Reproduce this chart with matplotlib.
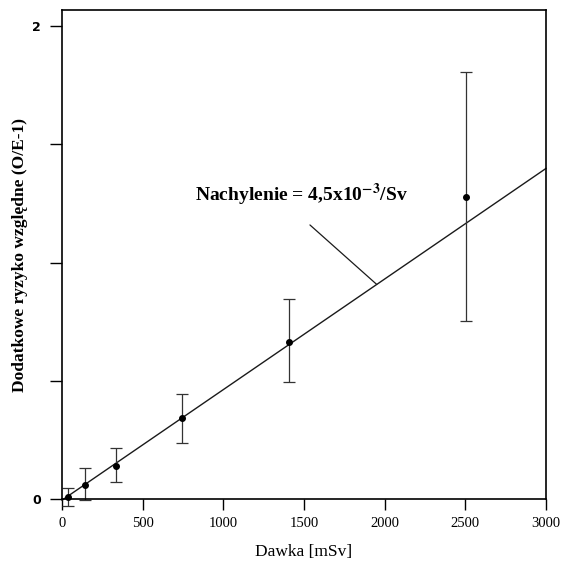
import matplotlib
matplotlib.use('Agg')
import matplotlib.pyplot as plt
import numpy as np

plt.rcParams['font.family'] = ['Liberation Serif', 'DejaVu Serif']
plt.rcParams['mathtext.fontset'] = 'stix'

# dose points
dose = [40, 140, 333, 742, 1409, 2505]
risk = [0.007, 0.059, 0.140, 0.341, 0.665, 1.278]
err_lo = [0.037, 0.063, 0.067, 0.105, 0.172, 0.525]
err_hi = [0.040, 0.073, 0.074, 0.103, 0.179, 0.526]

# fitted line ends
fit_x = [0, 3000]
fit_y = [-0.005, 1.398]

xticks = [0, 500, 1000, 1500, 2000, 2500, 3000]
yticks = [0, 0.5, 1.0, 1.5, 2.0]
ytick_labels = ['0', '', '', '', '2']

fig = plt.figure(figsize=(5.62, 5.69), dpi=100)
ax = fig.add_axes([0.1103, 0.1230, 0.8612, 0.8594])

ax.plot(fit_x, fit_y, color='#1a1a1a', lw=1.0, clip_on=False)
ax.errorbar(dose, risk, yerr=[err_lo, err_hi], fmt='o', color='black', ms=4,
            ecolor='#333333', elinewidth=0.9, capsize=4, capthick=0.9, clip_on=False)

ax.set_xlim(0, 3000)
ax.set_ylim(0, 2.068)
ax.set_xticks(xticks)
ax.set_yticks(yticks)
ax.set_yticklabels(ytick_labels, family='DejaVu Sans', fontweight='bold', fontsize=9)
ax.tick_params(axis='y', direction='out', length=9, width=1.0, pad=6)
ax.tick_params(axis='x', direction='out', length=8, width=1.0, pad=5, labelsize=10.5)
for sp in ax.spines.values():
    sp.set_linewidth(1.2)

ax.set_xlabel('Dawka [mSv]', fontsize=12.5, labelpad=10)
ax.set_ylabel('Dodatkowe ryzyko względne (O/E-1)', fontsize=12.5, fontweight='bold', labelpad=3)

# slope label with a pointer to the fitted line
slope = (fit_y[1] - fit_y[0]) / (fit_x[1] - fit_x[0])
px = 1951
ax.text(1482, 1.285, r'Nachylenie = 4,5x10$^{\mathbf{-3}}$/Sv', ha='center', va='center',
        fontsize=14, fontweight='bold')
ax.annotate('', xy=(px, fit_y[0] + slope * px), xytext=(1537, 1.159),
            arrowprops=dict(arrowstyle='-', color='#1a1a1a', lw=0.9, shrinkA=0, shrinkB=0))

fig.savefig('out.png', dpi=100)
